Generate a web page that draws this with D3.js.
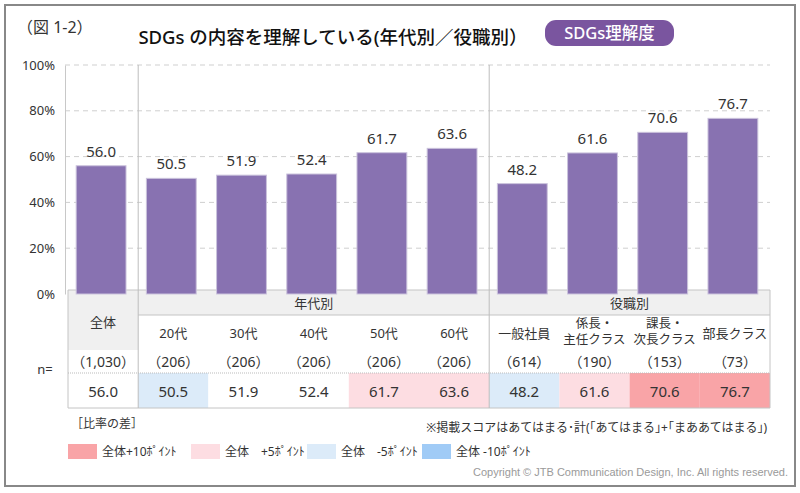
<!DOCTYPE html>
<html><head><meta charset="utf-8">
<script src="https://cdn.jsdelivr.net/npm/d3@7"></script>
<style>
html,body{margin:0;padding:0;background:#fff;}
svg{display:block;font-family:"Noto Sans","Noto Sans CJK JP",sans-serif;}
</style></head>
<body>
<svg id="c" width="800" height="493"></svg>
<script>
// ---- data ----
const categories = ["全体","20代","30代","40代","50代","60代","一般社員","係長・|主任クラス","課長・|次長クラス","部長クラス"];
const values = [56.0, 50.5, 51.9, 52.4, 61.7, 63.6, 48.2, 61.6, 70.6, 76.7];
const nCounts = ["（1,030）","（206）","（206）","（206）","（206）","（206）","（614）","（190）","（153）","（73）"];
const groupNames = ["年代別","役職別"];
const groupStart = [1, 6];
const groupEnd = [5, 9];
const yTicks = [0, 20, 40, 60, 80, 100];
const legendLabels = ["全体+10ﾎﾟｲﾝﾄ","全体　+5ﾎﾟｲﾝﾄ","全体　-5ﾎﾟｲﾝﾄ","全体 -10ﾎﾟｲﾝﾄ"];
const legendColors = ["#f9a4a7","#fddde2","#dcebf9","#a0cbf6"];

const svg = d3.select("#c");
const FF = "'Noto Sans','Noto Sans CJK JP',sans-serif";

// outer frame
svg.append("rect").attr("x",5).attr("y",5).attr("width",790).attr("height",481)
  .attr("fill","#fff").attr("stroke","#888").attr("stroke-width",2);

// header texts
svg.append("text").attr("x",17).attr("y",33).attr("font-size",16).attr("fill","#333").text("（図 1-2）");
svg.append("text").attr("x",333).attr("y",44).attr("text-anchor","middle").attr("font-size",18.5)
  .attr("font-weight",500).attr("fill","#111").text("SDGs の内容を理解している(年代別／役職別）");
svg.append("rect").attr("x",545).attr("y",20).attr("width",129).attr("height",26).attr("rx",11)
  .attr("fill","#7a559f");
svg.append("text").attr("x",609.5).attr("y",39).attr("text-anchor","middle").attr("font-size",16.5)
  .attr("font-weight",500).attr("fill","#fff").text("SDGs理解度");

// scales
const x = d3.scaleBand().domain(d3.range(categories.length)).range([68, 770]).padding(0);
const y = d3.scaleLinear().domain([0, 100]).range([294, 65]);
const barW = x.bandwidth() * 0.71;

// gridlines
svg.append("g").selectAll("line").data(yTicks.filter(t => t > 0)).join("line")
  .attr("x1",65).attr("x2",770).attr("y1",d=>y(d)).attr("y2",d=>y(d))
  .attr("stroke","#cfcfcf").attr("stroke-dasharray","5,4");

// y axis
const yAxis = d3.axisLeft(y).tickValues(yTicks).tickFormat(d => d + "%").tickSize(0).tickPadding(10);
const ga = svg.append("g").attr("transform","translate(65,0)").call(yAxis);
ga.select(".domain").attr("stroke","#c8c8c8");
ga.selectAll("text").attr("font-size",13).attr("fill","#333").attr("font-family",FF);

// table
const tTop = 290, r1 = 315, r2 = 350, r3 = 373, r4 = 408;
const tL = x(0), tR = x(categories.length-1) + x.bandwidth();
const colour = v => {
  const d = v - values[0];
  if (d >= 10) return legendColors[0];
  if (d >= 5) return legendColors[1];
  if (d <= -10) return legendColors[3];
  if (d <= -5) return legendColors[2];
  return "#fff";
};
const tg = svg.append("g");
tg.append("rect").attr("x",tL).attr("y",tTop).attr("width",x.bandwidth()).attr("height",r2-tTop).attr("fill","#f0f0f0");
tg.selectAll("rect.gh").data(groupNames).join("rect").attr("class","gh")
  .attr("x",(d,i)=>x(groupStart[i])).attr("y",tTop)
  .attr("width",(d,i)=>x(groupEnd[i])+x.bandwidth()-x(groupStart[i])).attr("height",r1-tTop).attr("fill","#f0f0f0");
tg.selectAll("rect.vc").data(values).join("rect").attr("class","vc")
  .attr("x",(d,i)=>x(i)).attr("y",r3).attr("width",x.bandwidth()).attr("height",r4-r3).attr("fill",d=>colour(d));

// bars
svg.append("g").selectAll("rect").data(values).join("rect")
  .attr("x",(d,i)=>x(i)+x.bandwidth()/2-barW/2-2).attr("width",barW)
  .attr("y",d=>y(d)).attr("height",d=>y(0)-y(d))
  .attr("fill","#8872b1").attr("stroke","#cbc3dc").attr("stroke-width",1);
svg.append("g").selectAll("text").data(values).join("text")
  .attr("x",(d,i)=>x(i)+x.bandwidth()/2-2).attr("y",d=>y(d)-9)
  .attr("text-anchor","middle").attr("font-size",15).attr("fill","#333").text(d=>d.toFixed(1));

// table lines
const lc = "#c4c4c4";
tg.append("line").attr("x1",tL).attr("x2",tL).attr("y1",tTop).attr("y2",r4).attr("stroke",lc);
tg.append("line").attr("x1",tR).attr("x2",tR).attr("y1",tTop).attr("y2",r4).attr("stroke",lc);
tg.append("line").attr("x1",tL).attr("x2",tR).attr("y1",r4).attr("y2",r4).attr("stroke",lc);
tg.append("line").attr("x1",tL).attr("x2",tR).attr("y1",tTop).attr("y2",tTop).attr("stroke",lc);
tg.append("line").attr("x1",x(groupStart[0])).attr("x2",tR).attr("y1",r1).attr("y2",r1).attr("stroke",lc);
tg.append("line").attr("x1",tL).attr("x2",tR).attr("y1",r3).attr("y2",r3).attr("stroke","#bbb").attr("stroke-dasharray","1,1");
svg.append("g").selectAll("line").data(groupStart).join("line")
  .attr("x1",d=>x(d)).attr("x2",d=>x(d)).attr("y1",65).attr("y2",r4).attr("stroke","#bdbdbd");

// table texts
const tx = svg.append("g").attr("fill","#333");
tx.selectAll("text.gn").data(groupNames).join("text").attr("class","gn")
  .attr("x",(d,i)=>(x(groupStart[i])+x(groupEnd[i])+x.bandwidth())/2).attr("y",308)
  .attr("text-anchor","middle").attr("font-size",13).text(d=>d);
tx.append("text").attr("x",x(0)+x.bandwidth()/2).attr("y",327).attr("text-anchor","middle")
  .attr("font-size",13).text(categories[0]);
categories.slice(1).forEach((c, j) => {
  const i = j + 1;
  const lines = c.split("|");
  const cx = x(i) + x.bandwidth()/2;
  if (lines.length === 1) {
    tx.append("text").attr("text-anchor","middle").attr("font-size",13).attr("x",cx).attr("y",338).text(lines[0]);
  } else {
    lines.forEach((l, k) => tx.append("text").attr("text-anchor","middle").attr("font-size",12.5)
      .attr("x",cx).attr("y",328 + k*16).text(l));
  }
});
tx.selectAll("text.nc").data(nCounts).join("text").attr("class","nc")
  .attr("x",(d,i)=>x(i)+x.bandwidth()/2).attr("y",367).attr("text-anchor","middle")
  .attr("font-size",14).text(d=>d);
tx.selectAll("text.vl").data(values).join("text").attr("class","vl")
  .attr("x",(d,i)=>x(i)+x.bandwidth()/2).attr("y",397).attr("text-anchor","middle")
  .attr("font-size",15).text(d=>d.toFixed(1));
tx.append("text").attr("x",45).attr("y",374).attr("text-anchor","middle").attr("font-size",13).text("n=");

// notes
svg.append("text").attr("x",71).attr("y",428).attr("font-size",12).attr("fill","#333").text("［比率の差］");
svg.append("text").attr("x",767).attr("y",432).attr("text-anchor","end").attr("font-size",12)
  .attr("fill","#333").text("※掲載スコアはあてはまる･計(｢あてはまる｣+｢まああてはまる｣)");

// legend
const legX = [68, 191, 307, 422];
const lg = svg.append("g");
lg.selectAll("rect").data(legendColors).join("rect")
  .attr("x",(d,i)=>legX[i]).attr("y",444).attr("width",29).attr("height",15).attr("fill",d=>d);
lg.selectAll("text").data(legendLabels).join("text")
  .attr("x",(d,i)=>legX[i]+34).attr("y",456).attr("font-size",12).attr("fill","#333").text(d=>d);

svg.append("text").attr("x",788).attr("y",476).attr("text-anchor","end").attr("font-size",11)
  .attr("fill","#9a9a9a").attr("font-family","'Liberation Sans',Arial,sans-serif")
  .text("Copyright © JTB Communication Design, Inc. All rights reserved.");
</script>
</body></html>
